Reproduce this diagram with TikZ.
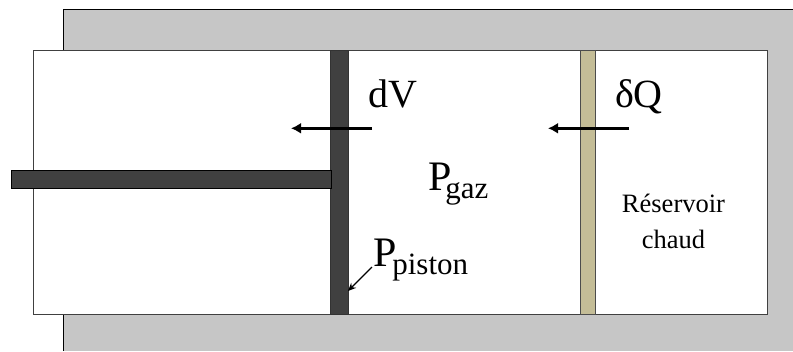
\documentclass[tikz,border=0pt]{standalone}
\usepackage{fontspec}
\setmainfont{Liberation Serif}
\usetikzlibrary{arrows.meta}
\definecolor{wall}{HTML}{C6C6C6}
\definecolor{pistonc}{HTML}{404040}
\definecolor{diatherm}{HTML}{C4BD97}
\tikzset{
  block/.style={draw=#1,inner sep=0pt,outer sep=0pt,line width=1pt},
  flow/.style={line width=3.2pt,-{Latex[length=10pt,width=11pt]}},
  lab/.style={inner sep=0pt,outer sep=0pt,font=\fontsize{40}{40}\selectfont,anchor=base west},
  small/.style={inner sep=0pt,font=\fontsize{26.5}{36}\selectfont,align=center},
}
\newcommand{\subtxt}[2]{\kern#1pt\raisebox{-8.5pt}{\fontsize{31}{31}\selectfont #2}}
\begin{document}
\begin{tikzpicture}[x=1pt,y=-1pt]
\useasboundingbox (0,0) rectangle (793,351);
\fill[wall] (63,9.5) rectangle (793,351);
\draw[line width=1pt] (793,9.5) -- (63,9.5) -- (63,351);
\node[block=black!75,fill=white,minimum width=734pt,minimum height=264pt,anchor=north west] (chamber) at (33,50) {};
\node[block=black!70,fill=diatherm,minimum width=15pt,minimum height=264pt,anchor=north west] (wallq) at (580,50) {};
\node[block=black!80,fill=pistonc,minimum width=18pt,minimum height=264pt,anchor=north west] (piston) at (330,50) {};
\node[block=black,fill=pistonc,minimum width=320pt,minimum height=18pt,anchor=north west] (rod) at (11,170) {};
\coordinate (dVs) at (372,128.3);
\coordinate (dVe) at (291,128.3);
\coordinate (dQs) at (629,128.3);
\coordinate (dQe) at (548,128.3);
\draw[flow] (dVs) -- (dVe);
\draw[flow] (dQs) -- (dQe);
\node[lab] (dV) at (368,107) {dV};
\node[lab] (dQ) at (615,107) {δQ};
\node[lab,font=\fontsize{42}{42}\selectfont] (pgaz) at (428,190) {P\subtxt{-6}{gaz}};
\node[lab,font=\fontsize{42}{42}\selectfont] (ppiston) at (373,266) {P\subtxt{-4}{piston}};
\node[small] (res) at (673.5,221) {Réservoir\\chaud};
\coordinate (pa) at (372,267);
\coordinate (pb) at (348,291);
\draw[line width=1.4pt,-{Stealth[length=8pt,width=7pt]}] (pa) -- (pb);
\end{tikzpicture}
\end{document}
